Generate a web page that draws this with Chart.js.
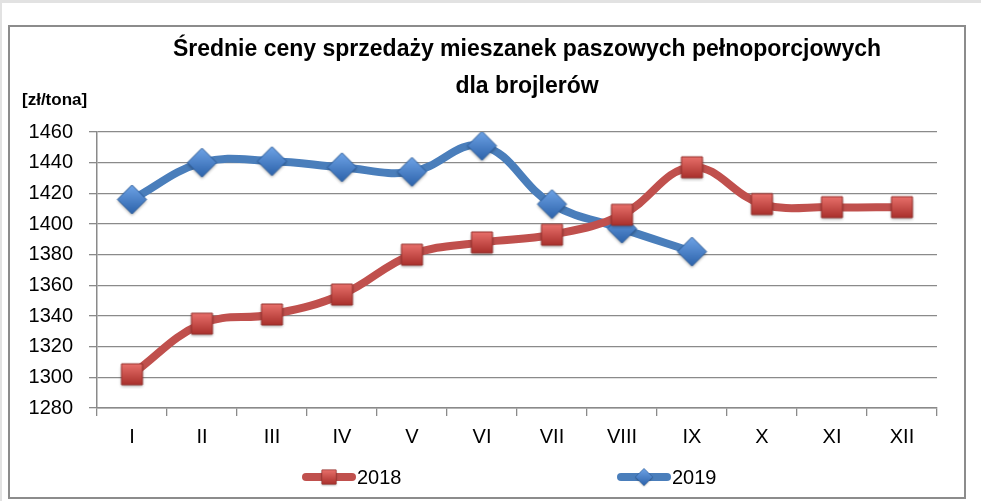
<!DOCTYPE html>
<html>
<head>
<meta charset="utf-8">
<script src="https://cdn.jsdelivr.net/npm/chart.js@4"></script>
<style>
    body { margin: 0; background: #fff; width: 981px; height: 501px; overflow: hidden; position: relative; }
    .band-top { position: absolute; left: 0; top: 0; width: 981px; height: 3px; background: #e2e2e2; }
    .band-left { position: absolute; left: 0; top: 0; width: 2px; height: 501px; background: #e2e2e2; }
    .frame { position: absolute; left: 8px; top: 25px; width: 958px; height: 474px; border: 2px solid #8c8c8c; box-sizing: border-box; }
</style>
</head>
<body>
<div class="band-top"></div>
<div class="band-left"></div>
<div class="frame"><canvas id="priceChart"></canvas></div>
<script>
// data
const months = ['I', 'II', 'III', 'IV', 'V', 'VI', 'VII', 'VIII', 'IX', 'X', 'XI', 'XII'];
const prices2018 = [1302, 1335, 1341, 1354, 1380, 1388, 1393, 1406, 1437, 1413, 1411, 1411];
const prices2019 = [1416, 1440, 1441, 1437, 1434, 1451, 1413, 1397, 1382, null, null, null];
const seriesNames = ['2018', '2019'];
const yMin = 1280, yMax = 1460, yStep = 20;
const titleLines = ['Średnie ceny sprzedaży mieszanek paszowych pełnoporcjowych', 'dla brojlerów'];
const unitLabel = '[zł/tona]';

// ----- marker pictures (bevelled square / diamond) -----
function makeMarker(size, light, dark, edge, diamond) {
    const pad = 4;
    const cv = document.createElement('canvas');
    cv.width = cv.height = size + pad * 2;
    const c = cv.getContext('2d');
    const m = pad + size / 2;
    const h = size / 2;
    function shape() {
        c.beginPath();
        if (diamond) {
            c.moveTo(m, m - h); c.lineTo(m + h, m); c.lineTo(m, m + h); c.lineTo(m - h, m);
        } else {
            c.rect(m - h, m - h, size, size);
        }
        c.closePath();
    }
    c.save();
    c.shadowColor = 'rgba(0,0,0,0.35)';
    c.shadowBlur = 3;
    c.shadowOffsetY = 1.5;
    const g = c.createLinearGradient(0, m - h, 0, m + h);
    g.addColorStop(0, light);
    g.addColorStop(1, dark);
    shape();
    c.fillStyle = g;
    c.fill();
    c.restore();
    shape();
    c.strokeStyle = edge;
    c.lineWidth = 1;
    c.stroke();
    return cv;
}
const redSquare = makeMarker(21, '#e8706b', '#a9302c', '#93302d', false);
const blueDiamond = makeMarker(29, '#6ea3e6', '#2c62aa', '#2b5d9c', true);

// ----- title, unit and legend drawn on top -----
const textPlugin = {
    id: 'textPlugin',
    afterDraw(chart) {
        const ctx = chart.ctx;
        ctx.save();
        ctx.fillStyle = '#000';
        ctx.textAlign = 'center';
        ctx.textBaseline = 'middle';
        ctx.font = 'bold 23px "Liberation Sans", Arial, sans-serif';
        ctx.fillText(titleLines[0], 517, 23);
        ctx.fillText(titleLines[1], 517, 60);
        ctx.textAlign = 'left';
        ctx.font = 'bold 17px "Liberation Sans", Arial, sans-serif';
        ctx.fillText(unitLabel, 12, 73);

        // legend: line sample + marker + name
        const legendX = [292, 607];
        const legendY = 450;
        chart.data.datasets.forEach((ds, i) => {
            const x = legendX[i];
            ctx.beginPath();
            ctx.moveTo(x + 4, legendY);
            ctx.lineTo(x + 50, legendY);
            ctx.lineCap = 'round';
            ctx.lineWidth = 8;
            ctx.strokeStyle = ds.borderColor;
            ctx.stroke();
            const img = ds.pointStyle;
            const s = i === 0 ? 20 : 22;
            ctx.drawImage(img, x + 27 - s / 2, legendY - s / 2, s, s);
            ctx.font = '20px "Liberation Sans", Arial, sans-serif';
            ctx.fillStyle = '#000';
            ctx.textAlign = 'left';
            ctx.fillText(seriesNames[i], x + 55, legendY + 1);
        });
        ctx.restore();
    }
};

const ctx = document.getElementById('priceChart').getContext('2d');
new Chart(ctx, {
    type: 'line',
    data: {
        labels: months,
        datasets: [{
            label: seriesNames[0],
            data: prices2018,
            borderColor: '#c0504d',
            borderWidth: 8,
            tension: 0.4,
            pointStyle: redSquare,
            spanGaps: false
        }, {
            label: seriesNames[1],
            data: prices2019,
            borderColor: '#4a7ebb',
            borderWidth: 8,
            tension: 0.4,
            pointStyle: blueDiamond,
            spanGaps: false
        }]
    },
    options: {
        responsive: true,
        maintainAspectRatio: false,
        animation: false,
        layout: { padding: { top: 105, right: 27, bottom: 49, left: 0 } },
        plugins: {
            legend: { display: false },
            title: { display: false },
            tooltip: { enabled: false }
        },
        scales: {
            x: {
                offset: true,
                grid: { offset: true, drawOnChartArea: false, color: '#8a8a8a', lineWidth: 1.3, tickLength: 8 },
                border: { color: '#8a8a8a', width: 1.5 },
                ticks: { color: '#000', padding: 9, font: { family: '"Liberation Sans", Arial, sans-serif', size: 20 }, maxRotation: 0 },
                afterFit(scale) { scale.height = 40; }
            },
            y: {
                min: yMin,
                max: yMax,
                ticks: {
                    stepSize: yStep,
                    color: '#000',
                    padding: 16,
                    font: { family: '"Liberation Sans", Arial, sans-serif', size: 20 },
                    callback: (value) => String(value)   // no thousands separator
                },
                grid: { color: '#8a8a8a', lineWidth: 1.3, tickLength: 8 },
                border: { color: '#8a8a8a', width: 1.5 },
                afterFit(scale) { scale.width = 87; }
            }
        }
    },
    plugins: [textPlugin]
});
</script>
</body>
</html>
